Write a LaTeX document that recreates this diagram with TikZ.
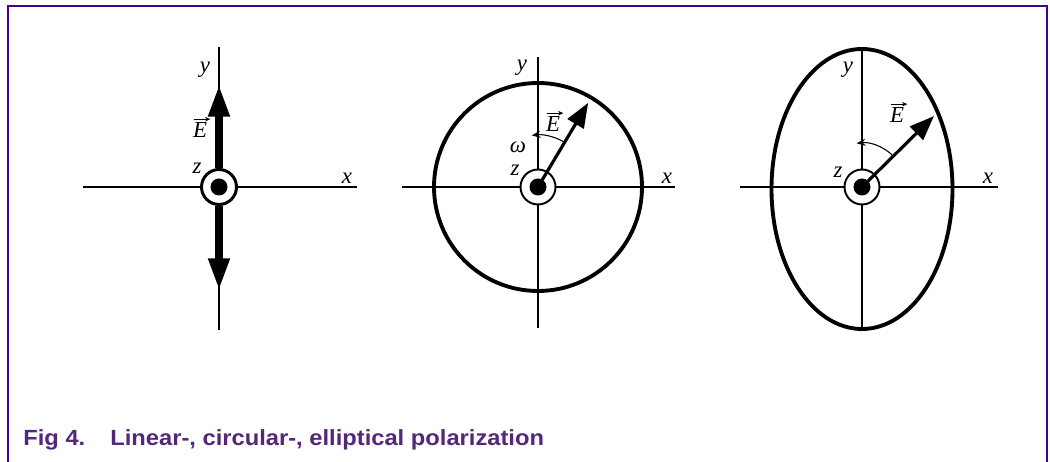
\documentclass[tikz,border=0pt]{standalone}
\usepackage{fontspec}
\setmainfont{Liberation Serif}
\newfontfamily\capfont{Liberation Sans}
\usetikzlibrary{arrows.meta}
\definecolor{framepurple}{RGB}{66,0,140}
\definecolor{captionpurple}{RGB}{84,38,124}

\begin{document}
\begin{tikzpicture}[x=0.02cm, y=0.02cm,
  axis/.style={line width=0.6pt},
  lbl/.style={font=\fontsize{13}{15}\selectfont\itshape, inner sep=0pt},
  vecbar/.style={line width=0.45pt, -{Stealth[length=3pt, width=2.6pt]}},
  ring/.style={circle, draw, fill=white, minimum size=0.70cm, inner sep=0pt},
  dot/.style={circle, fill=black, minimum size=0.34cm, inner sep=0pt},
  bigarrow/.style={line width=4pt, -{Triangle[length=18pt, width=11.5pt]}},
  efield/.style={line width=1.8pt, -{Triangle[length=14pt, width=10.5pt]}},
  spin/.style={line width=0.6pt, -{Stealth[length=5pt, width=4pt]}},
  orbit/.style={line width=2.2pt},
  captext/.style={anchor=base west, inner sep=0pt, text=captionpurple, xscale=1.08,
    font=\capfont\bfseries\fontsize{12.5}{15}\selectfont}]

\useasboundingbox (0,0) rectangle (1050,462);

% frame, open at the bottom
\draw[framepurple, line width=0.8pt] (8,0) -- (8,456) -- (1047,456) -- (1047,0);

%% ---- LINEAR ---------------------------------------------
\begin{scope}[shift={(219,275)}]
  \coordinate (c1) at (0,0);
  \coordinate (w1) at (-136,0);
  \coordinate (e1) at (138,0);
  \coordinate (n1) at (0,140);
  \coordinate (s1) at (0,-143);
  \draw[axis] (w1) -- (e1);
  \draw[axis] (s1) -- (n1);

  \node[ring, line width=1.7pt] (z1) at (c1) {};
  \node[dot] (d1) at (c1) {};
  % field swings up and down along y
  \coordinate (up1) at (0,102);
  \coordinate (dn1) at (0,-103);
  \draw[bigarrow] (z1.north) -- (up1);
  \draw[bigarrow] (z1.south) -- (dn1);

  \node[lbl] (y1) at (-14,117) {y};
  \node[lbl] (E1) at (-19,57) {E};
  \draw[vecbar] ([shift={(1,3)}]E1.north west) -- ([shift={(3,3)}]E1.north east);
  \node[lbl] (zl1) at (-22,19) {z};
  \node[lbl] (x1) at (128,9) {x};
\end{scope}

%% ---- CIRCULAR -------------------------------------------
\begin{scope}[shift={(538,275)}]
  \coordinate (c2) at (0,0);
  \coordinate (w2) at (-136,0);
  \coordinate (e2) at (137,0);
  \coordinate (n2) at (0,130);
  \coordinate (s2) at (0,-141);
  \draw[axis] (w2) -- (e2);
  \draw[axis] (s2) -- (n2);
  \draw[orbit] (c2) circle[radius=104];

  \node[ring, line width=1.1pt] (z2) at (c2) {};
  \coordinate (tip2) at (59.2:98);
  \draw[efield] (c2) -- (tip2);
  \node[dot] (d2) at (c2) {};
  \draw[spin] (61:52) arc[start angle=61, end angle=97, radius=52];

  \node[lbl] (y2) at (-16,119) {y};
  \node[lbl] (E2) at (15,63) {E};
  \draw[vecbar] ([shift={(1,3)}]E2.north west) -- ([shift={(3,3)}]E2.north east);
  \node[lbl] (w) at (-20,40) {ω};
  \node[lbl] (zl2) at (-23,17) {z};
  \node[lbl] (x2) at (129,9) {x};
\end{scope}

%% ---- ELLIPTICAL -----------------------------------------
\begin{scope}[shift={(862,275)}]
  \coordinate (c3) at (0,0);
  \coordinate (w3) at (-122,0);
  \coordinate (e3) at (136,0);
  \coordinate (n3) at (0,138);
  \coordinate (s3) at (0,-142);
  \draw[axis] (w3) -- (e3);
  \draw[axis] (s3) -- (n3);
  \draw[orbit] (0,-2) ellipse[x radius=90.5, y radius=140];

  \node[ring, line width=1.1pt] (z3) at (c3) {};
  \coordinate (tip3) at (44.6:101);
  \draw[efield] (c3) -- (tip3);
  \node[dot] (d3) at (c3) {};
  \draw[spin] (47:44) arc[start angle=47, end angle=97, radius=44];

  \node[lbl] (y3) at (-14,117) {y};
  \node[lbl] (E3) at (35,72) {E};
  \draw[vecbar] ([shift={(1,3)}]E3.north west) -- ([shift={(3,3)}]E3.north east);
  \node[lbl] (zl3) at (-24,15) {z};
  \node[lbl] (x3) at (126,9) {x};
\end{scope}

%% ---- CAPTION --------------------------------------------
\node[captext] (figno) at (23,16) {Fig 4.};
\node[captext] (figtitle) at (110,16) {Linear-, circular-, elliptical polarization};

\end{tikzpicture}
\end{document}
